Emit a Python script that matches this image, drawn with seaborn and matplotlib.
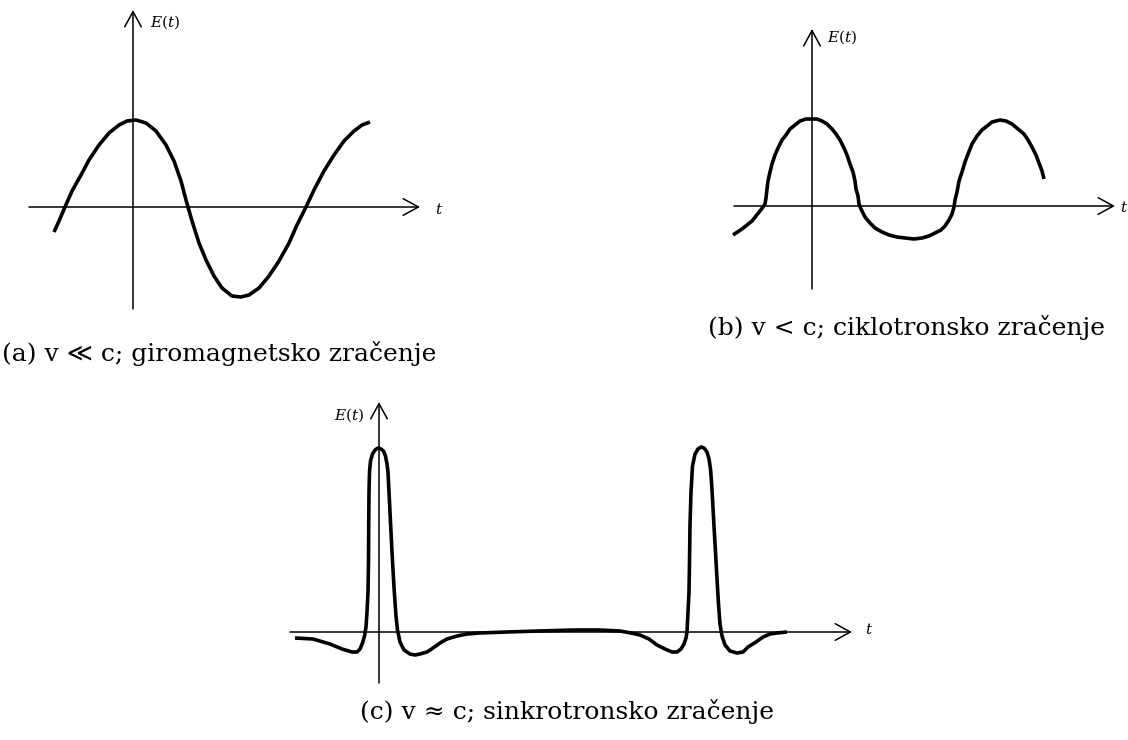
"""
Radiation of a charge in a magnetic field: E(t) for three velocity regimes.
(a) gyromagnetic, (b) cyclotron, (c) synchrotron.
"""
import matplotlib
matplotlib.use('Agg')
import matplotlib.pyplot as plt
import seaborn as sns

sns.set_theme(style='white')
plt.rcParams['font.family'] = ['DejaVu Serif', 'DejaVu Sans', 'Noto Sans CJK SC']
plt.rcParams['mathtext.fontset'] = 'dejavuserif'
plt.rcParams['text.color'] = 'black'

# ── DATA (units = pixels from the axis origin) ──
a_t = [-79, -74, -68, -61, -52, -44, -34, -24, -14, -6, 3, 13, 23, 33, 41, 48, 53, 55,
       59, 66, 73, 81, 89, 99, 108, 116, 126, 136, 146, 156, 164, 173, 181, 191, 201,
       211, 221, 229, 237]
a_E = [-25, -14, 0, 16, 32, 47, 62, 74, 82, 86, 87, 84, 76, 62, 46, 26, 7, 0,
       -14, -36, -53, -69, -81, -89, -90, -88, -81, -69, -54, -36, -18, 0, 17, 36, 52,
       66, 76, 82, 85]

b_t = [-79, -70, -60, -52, -49, -47, -46, -45, -44, -42, -40, -37, -34, -30, -26, -22,
       -17, -12, -6, -1, 5, 10, 15, 20, 24, 28, 32, 35, 38, 41, 43, 44, 46, 47,
       49, 53, 58, 63, 70, 77, 85, 93, 102, 110, 117, 123, 129, 133, 137, 140, 142,
       143, 145, 147, 150, 153, 156, 160, 165, 170, 175, 180, 188, 194, 200, 206,
       212, 216, 220, 224, 227, 230, 232]
b_E = [-29, -23, -15, -5, -1, 2, 8, 17, 25, 34, 42, 51, 58, 66, 71, 77,
       81, 85, 87, 87, 87, 85, 82, 77, 72, 66, 58, 51, 42, 34, 25, 17, 10, 2,
       -3, -11, -17, -22, -26, -29, -31, -32, -33, -32, -30, -27, -24, -20, -14, -8, -1,
       6, 14, 25, 34, 44, 52, 62, 70, 76, 80, 84, 86, 85, 82, 77,
       72, 66, 59, 51, 43, 35, 27]

c_t = [-84, -66, -49, -37, -27, -22, -19, -16.5, -14.5, -13, -12, -11, -10.5, -10.3,
       -10, -9.5, -8.5, -6.5, -4, -1, 2, 4.5, 6.5, 8, 9, 10, 11, 12, 13, 14, 15,
       16, 17, 18.5, 21, 25, 31, 36, 41, 48, 54, 61, 68, 78, 88, 100, 128, 160, 194,
       220, 241, 252, 261, 270, 278, 286, 293, 298, 302, 305, 307, 308, 309, 310,
       310.5, 311, 312, 313.5, 316, 319, 322, 325, 328, 330, 331.5, 332.5, 333.5,
       334.5, 335.5, 336.5, 337.5, 338.5, 339.5, 341, 343, 346, 351, 358, 364, 369,
       377, 384, 391, 398, 408]
c_E = [-6, -7, -12, -17, -20, -20, -17, -11, -4, 5, 20, 40, 70, 106,
       140, 160, 171, 178, 182, 184, 183, 181, 176, 168, 160, 140, 120, 100, 80, 62, 45,
       30, 16, 2, -10, -18, -22, -23, -22, -20, -16, -11, -7, -4, -2, -1, 0, 1, 2,
       2, 1, -1, -3, -7, -13, -17, -20, -20, -17, -12, -6, 0, 20, 40,
       70, 107, 140, 166, 178, 183, 185, 184, 180, 173, 163, 150, 133,
       115, 97, 80, 62, 45, 28, 8, -4, -13, -19, -21, -20, -15,
       -10, -5, -2, -1, 0]

captions = ['(a) v \u226a c; giromagnetsko zra\u010denje',
            '(b) v < c; ciklotronsko zra\u010denje',
            '(c) v \u2248 c; sinkrotronsko zra\u010denje']

# ── LAYOUT (image pixels) ──
W, H = 1128, 740
fig = plt.figure(figsize=(W / 100, H / 100), dpi=100)


def panel_axes(box, origin):
    x0, y0, x1, y1 = box
    ox, oy = origin
    ax = fig.add_axes([x0 / W, 1 - y1 / H, (x1 - x0) / W, (y1 - y0) / H])
    ax.set_xlim(x0 - ox, x1 - ox)
    ax.set_ylim(oy - y1, oy - y0)
    ax.axis('off')
    return ax


def draw_axes(ax, x_range, y_range):
    arrow = dict(arrowstyle='->,head_length=0.55,head_width=0.3', lw=1.1,
                 color='black', shrinkA=0, shrinkB=0, mutation_scale=20)
    ax.annotate('', xy=(x_range[1], 0), xytext=(x_range[0], 0), arrowprops=arrow)
    ax.annotate('', xy=(0, y_range[1]), xytext=(0, y_range[0]), arrowprops=arrow)


panels = [
    dict(box=(0, 0, 450, 330), origin=(133, 207), t=a_t, E=a_E,
         xr=(-104, 287), yr=(-102, 197), tlab=(302, -2), elab=(17, 185), eha='left'),
    dict(box=(700, 0, 1128, 310), origin=(812, 206), t=b_t, E=b_E,
         xr=(-78, 303), yr=(-83, 177), tlab=(308, -2), elab=(15, 169), eha='left'),
    dict(box=(270, 390, 880, 700), origin=(379, 632), t=c_t, E=c_E,
         xr=(-89, 473), yr=(-51, 230), tlab=(486, 2), elab=(-15, 217), eha='right'),
]

for p in panels:
    ax = panel_axes(p['box'], p['origin'])
    draw_axes(ax, p['xr'], p['yr'])
    sns.lineplot(x=p['t'], y=p['E'], sort=False, estimator=None, color='black',
                 lw=2.6, ax=ax, solid_capstyle='butt', solid_joinstyle='round')
    ax.text(*p['tlab'], '$t$', fontsize=11, ha='left', va='center')
    ax.text(*p['elab'], '$E(t)$', fontsize=11, ha=p['eha'], va='center')

fig.text(2 / W, 1 - 353 / H, captions[0], fontsize=18, ha='left', va='center')
fig.text(708 / W, 1 - 328 / H, captions[1], fontsize=18, ha='left', va='center')
fig.text(567 / W, 1 - 712 / H, captions[2], fontsize=18, ha='center', va='center')

plt.savefig('out.png', dpi=100)
plt.close()
